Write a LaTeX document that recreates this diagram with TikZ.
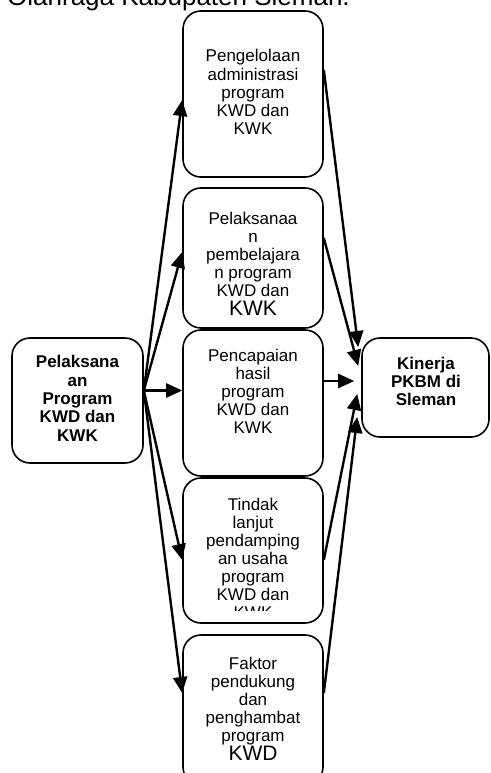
\documentclass[tikz,border=0pt]{standalone}
\usepackage{fontspec}
\setmainfont{Liberation Sans}
\usetikzlibrary{arrows.meta}
\begin{document}
\begin{tikzpicture}[x=1pt,y=1pt,
  boxst/.style={draw, line width=1.6pt, rounded corners=18pt, inner sep=0pt, minimum width=140pt},
  txt/.style={align=center, inner sep=0pt, font=\fontsize{17}{18.1}\selectfont},
  btxt/.style={txt, font=\fontsize{17}{18.3}\selectfont\bfseries},
  arr/.style={line width=2.4pt, -{Triangle[length=16pt,width=14pt]}}]
\useasboundingbox (0,0) rectangle (490,-773);
% title (cut off at the top)
\node[anchor=base west, inner sep=0pt, font=\fontsize{26}{30}\selectfont] (title) at (7,-5.5) {Olahraga Kabupaten Sleman.};
% boxes
\node[boxst, minimum width=131pt, minimum height=125pt] (L) at (77.5,-400.5) {};
\node[boxst, minimum width=127pt, minimum height=99pt] (R) at (425.5,-387.5) {};
\node[boxst, minimum height=166pt] (b1) at (253,-94) {};
\node[boxst, minimum height=140pt] (b2) at (253,-258) {};
\node[boxst, minimum height=146pt] (b3) at (253,-403) {};
\node[boxst, minimum height=145pt] (b4) at (253,-550.5) {};
\node[boxst, minimum height=150pt] (b5) at (253,-710) {};
% texts (anchor base = baseline of the last line)
\node[btxt, anchor=base] (tL) at (77.5,-441) {Pelaksana\\an\\Program\\KWD dan\\KWK};
\node[btxt, anchor=base] (tR) at (426,-405.6) {Kinerja\\PKBM di\\Sleman};
\node[txt, anchor=base] (t1) at (253,-134.4) {Pengelolaan\\administrasi\\program\\KWD dan\\KWK};
\node[txt, anchor=base] (t2) at (253,-315) {Pelaksanaa\\n\\pembelajara\\n program\\KWD dan\\{\fontsize{21}{20}\selectfont KWK}};
\node[txt, anchor=base] (t3) at (253,-433.4) {Pencapaian\\hasil\\program\\KWD dan\\KWK};
\begin{scope}
\clip (183,-478) rectangle (323,-610.5);
\node[txt, anchor=base] (t4) at (253,-618.6) {Tindak\\lanjut\\pendamping\\an usaha\\program\\KWD dan\\KWK};
\end{scope}
\node[txt, anchor=base] (t5) at (253,-760) {Faktor\\pendukung\\dan\\penghambat\\program\\{\fontsize{21}{20}\selectfont KWD}};
% connectors from the left box
\draw[arr] ([yshift=10pt]L.east) -- ([yshift=-6pt]b1.west);
\draw[arr] ([yshift=10pt]L.east) -- ([yshift=6pt]b2.west);
\draw[arr] ([yshift=10pt]L.east) -- ([yshift=12.5pt]b3.west);
\draw[arr] ([yshift=10pt]L.east) -- ([yshift=-9.5pt]b4.west);
\draw[arr] ([yshift=10pt]L.east) -- ([yshift=17pt]b5.west);
% connectors into the right box
\draw[arr] ([yshift=24pt]b1.east) -- ([xshift=-3pt,yshift=40.5pt]R.west);
\draw[arr] ([yshift=20pt]b2.east) -- ([xshift=-3pt,yshift=21.5pt]R.west);
\draw[arr] ([yshift=22pt]b3.east) -- ([xshift=-7pt,yshift=6.5pt]R.west);
\draw[arr] ([yshift=-9.5pt]b4.east) -- ([xshift=-4pt,yshift=-6.5pt]R.west);
\draw[arr] ([yshift=17pt]b5.east) -- ([xshift=-4pt,yshift=-29.5pt]R.west);
\end{tikzpicture}
\end{document}
